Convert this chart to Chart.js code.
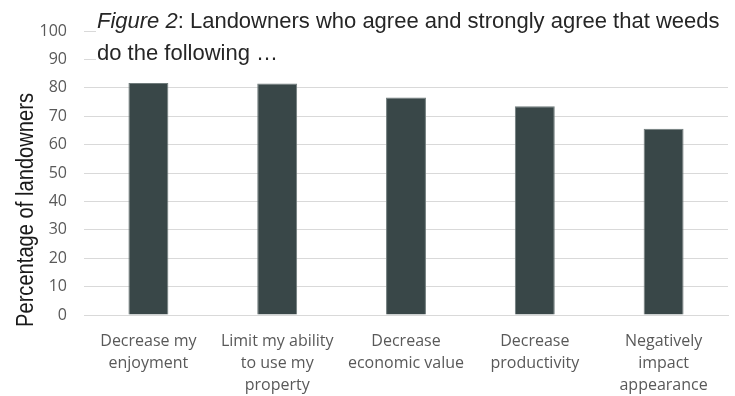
<!DOCTYPE html>
<html>
<head>
<meta charset="utf-8">
<script src="https://cdn.jsdelivr.net/npm/chart.js@4/dist/chart.umd.min.js"></script>
<style>
  html, body { margin: 0; padding: 0; background: #fff; }
  #wrap { width: 735px; height: 396px; }
</style>
</head>
<body>
<div id="wrap"><canvas id="c" width="735" height="396"></canvas></div>
<script>
// Survey results: share of landowners who agree / strongly agree
const categories = [
  ["Decrease my", "enjoyment"],
  ["Limit my ability", "to use my", "property"],
  ["Decrease", "economic value"],
  ["Decrease", "productivity"],
  ["Negatively", "impact", "appearance"]
];
const agreePercent = [81.7, 81.5, 76.6, 73.5, 65.6];
const yTicks = [0, 10, 20, 30, 40, 50, 60, 70, 80, 90, 100];

const titleItalic = "Figure 2";
const titleRest = ": Landowners who agree and strongly agree that weeds";
const titleLine2 = "do the following \u2026";
const yAxisTitle = "Percentage of landowners";

const SANS = '"Liberation Sans", Arial, sans-serif';
const TICK_FONT = '"Open Sans", "Noto Sans", sans-serif';

// Draws text squeezed horizontally so that it spans the given length
function fitText(ctx, text, x, y, length) {
  const natural = ctx.measureText(text).width;
  ctx.save();
  ctx.translate(x, y);
  ctx.scale(length / natural, 1);
  ctx.fillText(text, 0, 0);
  ctx.restore();
}

// Draws the figure caption (on a white panel over the top of the plot) and the rotated y-axis title
const captionPlugin = {
  id: 'caption',
  afterDraw(chart) {
    const ctx = chart.ctx;
    ctx.save();
    ctx.fillStyle = '#ffffff';
    ctx.fillRect(96, 4, 735 - 96, 70);

    ctx.fillStyle = '#262626';
    ctx.textBaseline = 'alphabetic';
    ctx.textAlign = 'left';
    const x0 = 97, y1 = 28, y2 = 60;
    ctx.font = 'italic 22px ' + SANS;
    ctx.fillText(titleItalic, x0, y1);
    const w = ctx.measureText(titleItalic).width;
    ctx.font = '22px ' + SANS;
    ctx.fillText(titleRest, x0 + w, y1);
    ctx.fillText(titleLine2, x0, y2);

    ctx.translate(33, 210);
    ctx.rotate(-Math.PI / 2);
    ctx.textAlign = 'left';
    ctx.font = '23px ' + SANS;
    ctx.fillStyle = '#1a1a1a';
    fitText(ctx, yAxisTitle, -117, 0, 234);
    ctx.restore();
  }
};

new Chart(document.getElementById('c'), {
  type: 'bar',
  data: {
    labels: categories,
    datasets: [{
      data: agreePercent,
      backgroundColor: '#394748',
      borderColor: '#6f7b7b',
      borderWidth: 1,
      barPercentage: 0.31,
      categoryPercentage: 1.0
    }]
  },
  options: {
    responsive: false,
    animation: false,
    layout: { padding: { top: 31, right: 7, left: 0, bottom: 0 } },
    plugins: {
      legend: { display: false },
      tooltip: { enabled: false },
      title: { display: false }
    },
    scales: {
      x: {
        grid: { display: false, drawTicks: false },
        border: { display: true, color: '#d9d9d9', width: 1 },
        ticks: {
          color: '#595959',
          font: { family: TICK_FONT, size: 16, lineHeight: 1.36 },
          padding: 16,
          maxRotation: 0,
          autoSkip: false
        },
        afterFit(scale) { scale.height = 81; }
      },
      y: {
        min: 0,
        max: 100,
        afterBuildTicks(scale) { scale.ticks = yTicks.map(v => ({ value: v })); },
        grid: { color: '#d9d9d9', lineWidth: 1, drawTicks: false },
        border: { display: false },
        ticks: {
          color: '#595959',
          font: { family: TICK_FONT, size: 16 },
          padding: 17
        },
        afterFit(scale) { scale.width = 84; }
      }
    }
  },
  plugins: [captionPlugin]
});
</script>
</body>
</html>
